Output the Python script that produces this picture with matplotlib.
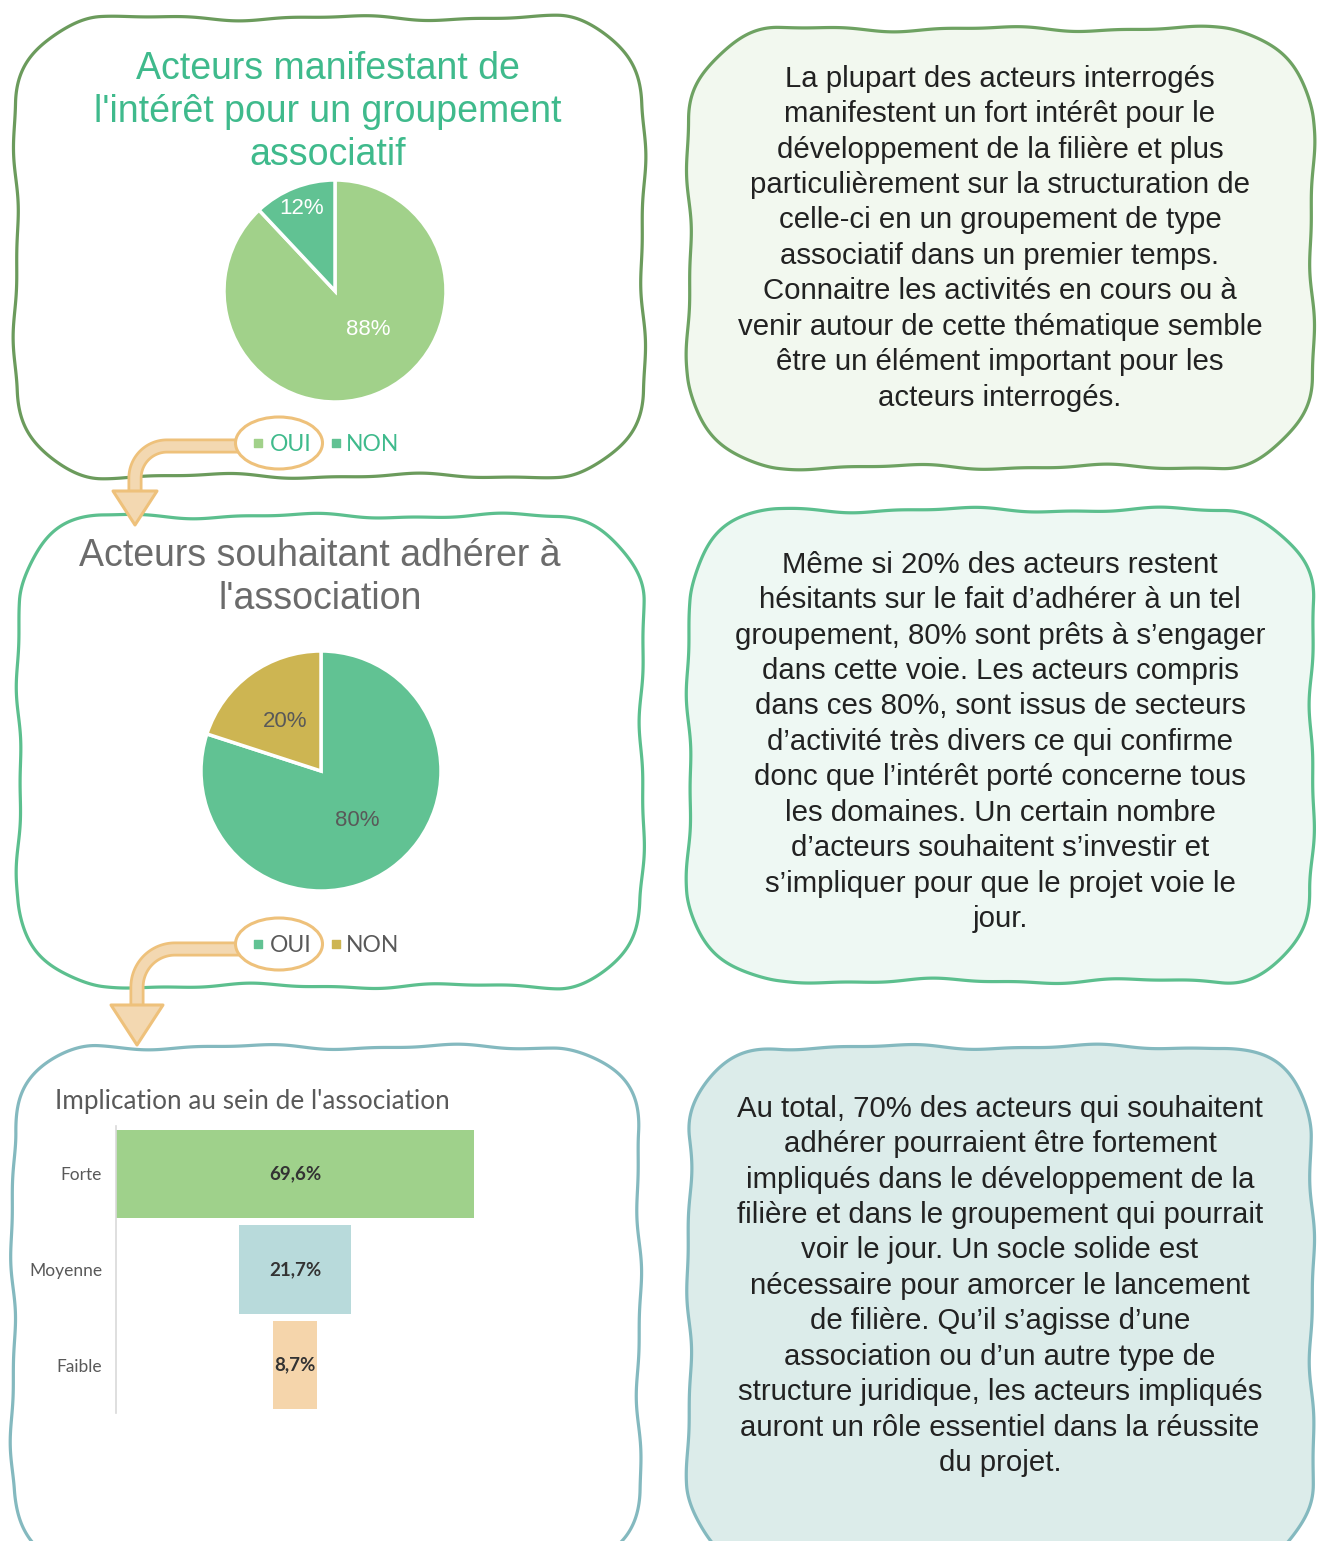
import numpy as np
import matplotlib
matplotlib.use('Agg')
import matplotlib.pyplot as plt
from matplotlib.patches import Ellipse, Polygon

W, H = 1321, 1541

# ---------------- data ----------------
pie1_labels = ['OUI', 'NON']
pie1_values = [88, 12]
pie2_labels = ['OUI', 'NON']
pie2_values = [80, 20]
bar_categories = ['Forte', 'Moyenne', 'Faible']
bar_values = [69.6, 21.7, 8.7]

title1 = ["Acteurs manifestant de", "l'intérêt pour un groupement", "associatif"]
title2 = ["Acteurs souhaitant adhérer à", "l'association"]
bar_title = "Implication au sein de l'association"

text1 = ["La plupart des acteurs interrogés",
         "manifestent un fort intérêt pour le",
         "développement de la filière et plus",
         "particulièrement sur la structuration de",
         "celle-ci en un groupement de type",
         "associatif dans un premier temps.",
         "Connaitre les activités en cours ou à",
         "venir autour de cette thématique semble",
         "être un élément important pour les",
         "acteurs interrogés."]
text2 = ["Même si 20% des acteurs restent",
         "hésitants sur le fait d’adhérer à un tel",
         "groupement, 80% sont prêts à s’engager",
         "dans cette voie. Les acteurs compris",
         "dans ces 80%, sont issus de secteurs",
         "d’activité très divers ce qui confirme",
         "donc que l’intérêt porté concerne tous",
         "les domaines. Un certain nombre",
         "d’acteurs souhaitent s’investir et",
         "s’impliquer pour que le projet voie le",
         "jour."]
text3 = ["Au total, 70% des acteurs qui souhaitent",
         "adhérer pourraient être fortement",
         "impliqués dans le développement de la",
         "filière et dans le groupement qui pourrait",
         "voir le jour. Un socle solide est",
         "nécessaire pour amorcer le lancement",
         "de filière. Qu’il s’agisse d’une",
         "association ou d’un autre type de",
         "structure juridique, les acteurs impliqués",
         "auront un rôle essentiel dans la réussite",
         "du projet."]

# ---------------- styles ----------------
C_DKGREEN = '#6b9b5c'
C_GREEN = '#5cbf8e'
C_TEAL = '#84b9bf'
C_PIE_OUI1 = '#a1d18a'
C_PIE_NON1 = '#61c293'
C_PIE_OUI2 = '#61c293'
C_PIE_NON2 = '#cdb552'
C_TITLE1 = '#3fba8c'
C_GRAY = '#6b6b6b'
C_DARKTXT = '#595959'
C_BODY = '#222222'
C_ORANGE_E = '#eec17b'
C_ORANGE_F = '#f3d8b1'
bar_colors = ['#9fd18b', '#b8dadb', '#f5d5ab']

SANS = ['Liberation Sans', 'DejaVu Sans']
CAL = ['Lato', 'DejaVu Sans']

fig = plt.figure(figsize=(W / 100, H / 100), dpi=100)
bg = fig.add_axes([0, 0, 1, 1])
bg.set_xlim(0, W)
bg.set_ylim(H, 0)
bg.axis('off')


def px2pt(p):
    return p * 72 / 100


def txt(x, yc, s, size, **kw):
    y = yc + 0.36 * size * 100 / 72
    bg.text(x, y, s, fontsize=size, va='baseline', **kw)


def wavy_box(x0, y0, x1, y1, r, color, fill='none', lw=2.3, ph=0.0):
    segs = []
    n = 200

    def arc(cx, cy, a0, a1):
        t = np.linspace(a0, a1, 50, endpoint=False)
        return np.column_stack([cx + r * np.cos(t), cy + r * np.sin(t)])
    segs.append(np.column_stack([np.linspace(x0 + r, x1 - r, n, endpoint=False), np.full(n, y0)]))
    segs.append(arc(x1 - r, y0 + r, -np.pi / 2, 0))
    segs.append(np.column_stack([np.full(n, x1), np.linspace(y0 + r, y1 - r, n, endpoint=False)]))
    segs.append(arc(x1 - r, y1 - r, 0, np.pi / 2))
    segs.append(np.column_stack([np.linspace(x1 - r, x0 + r, n, endpoint=False), np.full(n, y1)]))
    segs.append(arc(x0 + r, y1 - r, np.pi / 2, np.pi))
    segs.append(np.column_stack([np.full(n, x0), np.linspace(y1 - r, y0 + r, n, endpoint=False)]))
    segs.append(arc(x0 + r, y0 + r, np.pi, 1.5 * np.pi))
    P = np.vstack(segs)
    Pc = np.vstack([P, P[:1]])
    d = np.diff(Pc, axis=0)
    seg = np.hypot(d[:, 0], d[:, 1])
    perim = seg.sum()
    s = np.concatenate([[0], np.cumsum(seg)[:-1]])
    # periodic tangent
    tx = np.roll(P[:, 0], -1) - np.roll(P[:, 0], 1)
    ty = np.roll(P[:, 1], -1) - np.roll(P[:, 1], 1)
    nn = np.hypot(tx, ty) + 1e-9
    nx, ny = ty / nn, -tx / nn
    k1 = max(1, round(perim / 200))
    k2 = max(1, round(perim / 90))
    off = 2.0 * np.sin(2 * np.pi * k1 * s / perim + ph) + 0.9 * np.sin(2 * np.pi * k2 * s / perim + 2.3 * ph + 1.0)
    Q = P + np.column_stack([nx * off, ny * off])
    Q = np.vstack([Q, Q[:1]])
    bg.fill(Q[:, 0], Q[:, 1], facecolor=fill, edgecolor=color, lw=lw, zorder=1, joinstyle='round')


# boxes
wavy_box(16, 18, 643, 476, 85, C_DKGREEN, fill='white', ph=0.3)
wavy_box(19, 516, 642, 986, 85, C_GREEN, fill='white', ph=1.7)
wavy_box(13, 1047, 639, 1575, 85, C_TEAL, fill='white', ph=2.9)
wavy_box(689, 29, 1312, 467, 90, '#6ea262', fill='#f2f8ef', ph=0.9)
wavy_box(689, 510, 1312, 981, 90, C_GREEN, fill='#eef8f3', ph=2.2)
wavy_box(689, 1047, 1312, 1575, 90, C_TEAL, fill='#dcecea', ph=4.1)

# titles
for i, line in enumerate(title1):
    txt(328, 65 + 43 * i, line, 27, ha='center', color=C_TITLE1, family=SANS, zorder=3)
for i, line in enumerate(title2):
    txt(320, 552 + 43 * i, line, 27, ha='center', color=C_GRAY, family=SANS, zorder=3)

# body texts
for lines, y0 in ((text1, 76), (text2, 562), (text3, 1106)):
    for i, line in enumerate(lines):
        txt(1000, y0 + 35.45 * i, line, 21.2, ha='center', color=C_BODY, family=SANS, zorder=3)


# arrows
def bend_arrow(y_band, x_start, x_vert, rad, y_head, head_half, y_tip):
    cx, cy = x_vert + rad, y_band + rad
    t = np.linspace(-np.pi / 2, -np.pi, 40)
    xs = np.concatenate([[x_start], cx + rad * np.cos(t), [x_vert]])
    ys = np.concatenate([[y_band], cy + rad * np.sin(t), [y_head + 3]])
    bg.plot(xs, ys, color=C_ORANGE_E, lw=px2pt(15), solid_capstyle='butt', zorder=4)
    bg.plot(xs, ys, color=C_ORANGE_F, lw=px2pt(9.5), solid_capstyle='butt', zorder=4.1)
    bg.add_patch(Polygon([[x_vert - head_half, y_head], [x_vert + head_half, y_head], [x_vert, y_tip]],
                         closed=True, facecolor=C_ORANGE_F, edgecolor=C_ORANGE_E, lw=2.2,
                         joinstyle='round', zorder=4.2))


bend_arrow(446, 245, 135, 32, 491, 22, 525)
bend_arrow(949, 245, 137, 38, 1005, 26, 1045)

# legends with ellipse highlights
for yc, cols, tcol in ((443, [C_PIE_OUI1, C_PIE_NON1], C_TITLE1),
                       (944, [C_PIE_OUI2, C_PIE_NON2], C_DARKTXT)):
    bg.add_patch(Ellipse((279, yc), 87, 52, facecolor='white', edgecolor=C_ORANGE_E, lw=2.2, zorder=5))
    bg.scatter([258], [yc], marker='s', s=26, color=cols[0], zorder=6)
    txt(270, yc, pie1_labels[0], 16.5, ha='left', color=tcol, family=CAL, zorder=6)
    bg.scatter([336], [yc], marker='s', s=26, color=cols[1], zorder=6)
    txt(346, yc, pie1_labels[1], 16.5, ha='left', color=tcol, family=CAL, zorder=6)


# pies
def pie_axes(cx, cy, r):
    return fig.add_axes([(cx - r) / W, 1 - (cy + r) / H, 2 * r / W, 2 * r / H])


ax1 = pie_axes(335, 291, 111)
w1, t1, a1 = ax1.pie(pie1_values, colors=[C_PIE_OUI1, C_PIE_NON1], startangle=90, counterclock=False,
                     autopct=lambda p: f'{p:.0f}%', pctdistance=0.8,
                     wedgeprops=dict(edgecolor='white', linewidth=2.5),
                     textprops=dict(color='white', fontsize=16, family=SANS))
a1[0].set_position((0.30, -0.35))
a1[1].set_position((-0.30, 0.74))
ax1.set_xlim(-1, 1)
ax1.set_ylim(-1, 1)

ax2 = pie_axes(321, 771, 120)
w2, t2, a2 = ax2.pie(pie2_values, colors=[C_PIE_OUI2, C_PIE_NON2], startangle=90, counterclock=False,
                     autopct=lambda p: f'{p:.0f}%', pctdistance=0.51,
                     wedgeprops=dict(edgecolor='white', linewidth=2.5),
                     textprops=dict(color=C_DARKTXT, fontsize=16, family=SANS))
ax2.set_xlim(-1, 1)
ax2.set_ylim(-1, 1)

# funnel bar chart
bx0, bx1, by0, by1 = 116, 474, 1126, 1413
axb = fig.add_axes([bx0 / W, 1 - by1 / H, (bx1 - bx0) / W, (by1 - by0) / H])
axb.set_facecolor('none')
vmax = max(bar_values)
lefts = [(vmax - v) / 2 for v in bar_values]
ypos = np.arange(len(bar_categories))
axb.barh(ypos, bar_values, left=lefts, height=0.92, color=bar_colors)
for yv, v, l in zip(ypos, bar_values, lefts):
    axb.text(l + v / 2, yv, f'{v:.1f}'.replace('.', ',') + '%', ha='center', va='center',
             fontsize=13.5, fontweight='bold', color='#333333', family=CAL)
axb.set_xlim(0, vmax)
axb.set_ylim(len(bar_categories) - 0.5, -0.5)
axb.set_yticks(ypos)
axb.set_yticklabels(bar_categories, fontsize=12.5, color=C_DARKTXT, family=CAL)
axb.tick_params(axis='y', length=0, pad=10)
axb.set_xticks([])
for sp in ('top', 'right', 'bottom'):
    axb.spines[sp].set_visible(False)
axb.spines['left'].set_color('#d9d9d9')
axb.spines['left'].set_linewidth(1.2)

txt(55, 1100, bar_title, 18.8, ha='left', color=C_DARKTXT, family=CAL, zorder=3)

fig.savefig('out.png', dpi=100)
